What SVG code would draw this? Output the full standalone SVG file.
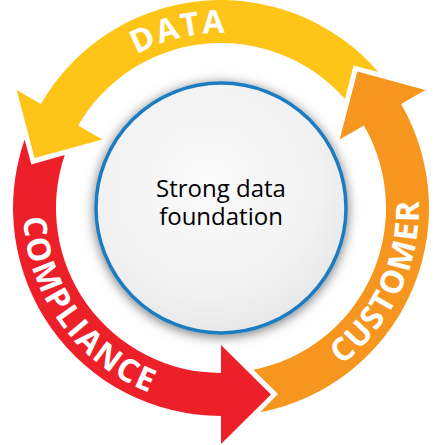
<svg xmlns="http://www.w3.org/2000/svg" xmlns:xlink="http://www.w3.org/1999/xlink" width="445" height="445" viewBox="0 0 445 445">
  <style>
    .band-label { font-family: "Open Sans", "Liberation Sans", sans-serif; font-weight: 700; font-size: 32px; fill: #ffffff; letter-spacing: 1.8px; }
    .center-label { font-family: "Open Sans", "Liberation Sans", sans-serif; font-size: 24px; fill: #000000; text-anchor: middle; }
  </style>
  <defs>
    <path id="arrow" d="M -156.3 -52.9 A 165 165 0 0 0 0 165 L 0 137 L 50 186.4 L 0 236 L 0 208 A 208 208 0 0 1 -196.4 -68.4 L -189.6 -43.6 Z"/>
    <path id="p-data" d="M 53.2 158.3 A 175 175 0 0 1 347.9 87.5" fill="none"/>
    <path id="p-compliance" d="M 40.1 127.5 A 198 198 0 0 0 241.7 404.9" fill="none"/>
    <path id="p-customer" d="M 238.3 405.2 A 198 198 0 0 0 383.2 94.4" fill="none"/>
    <radialGradient id="disc" cx="0.45" cy="0.4" r="0.65">
      <stop offset="0" stop-color="#fbfbfb"/>
      <stop offset="0.7" stop-color="#f1f1f2"/>
      <stop offset="1" stop-color="#e4e5e6"/>
    </radialGradient>
    <filter id="shadow" x="-20%" y="-20%" width="140%" height="140%">
      <feDropShadow dx="0" dy="2" stdDeviation="6" flood-color="#000000" flood-opacity="0.55"/>
    </filter>
  </defs>
  <rect width="445" height="445" fill="#ffffff"/>
  <g id="connectors">
    <g id="arrow-data">
      <use xlink:href="#arrow" href="#arrow" transform="translate(221 208) rotate(120)" fill="#fec418"/>
      <text class="band-label"><textPath xlink:href="#p-data" href="#p-data" startOffset="50%" text-anchor="middle">DATA</textPath></text>
    </g>
    <g id="arrow-compliance">
      <use xlink:href="#arrow" href="#arrow" transform="translate(221 208)" fill="#ed1f29"/>
      <text class="band-label"><textPath xlink:href="#p-compliance" href="#p-compliance" startOffset="50%" text-anchor="middle">COMPLIANCE</textPath></text>
    </g>
    <g id="arrow-customer">
      <use xlink:href="#arrow" href="#arrow" transform="translate(221 208) rotate(-120)" fill="#f7961f"/>
      <text class="band-label"><textPath xlink:href="#p-customer" href="#p-customer" startOffset="50%" text-anchor="middle">CUSTOMER</textPath></text>
    </g>
  </g>
  <g id="center-node">
    <circle cx="221" cy="208" r="125" fill="url(#disc)" stroke="#1b7cc1" stroke-width="3.5" filter="url(#shadow)"/>
    <text class="center-label" x="221" y="197">Strong data</text>
    <text class="center-label" x="221" y="225">foundation</text>
  </g>
</svg>
